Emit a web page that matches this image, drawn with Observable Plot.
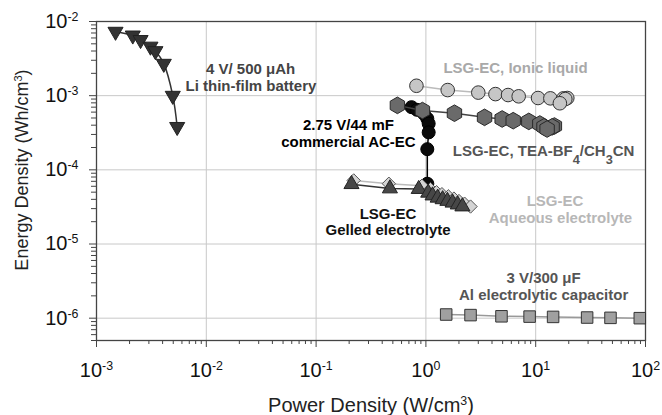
<!DOCTYPE html>
<html>
<head>
<meta charset="utf-8">
<script src="https://cdn.jsdelivr.net/npm/d3@7"></script>
<script src="https://cdn.jsdelivr.net/npm/@observablehq/plot@0.6"></script>
<style>
  html, body { margin: 0; padding: 0; background: #fff; }
</style>
</head>
<body>
<div id="chart"></div>
<script>
// ---- Data (power density W/cm^3, energy density Wh/cm^3) ----
const liPower  = [0.00149, 0.00214, 0.00252, 0.0031, 0.00344, 0.0041, 0.00495, 0.00543];
const liEnergy = [0.0073, 0.0065, 0.00565, 0.0046, 0.0040, 0.0027, 0.0010, 0.00038];

const acPower  = [0.74, 0.83, 0.96, 1.03, 1.06, 1.06, 1.03, 1.03];
const acEnergy = [7.0e-4, 6.45e-4, 5.7e-4, 4.9e-4, 4.2e-4, 3.2e-4, 1.9e-4, 6.5e-5];

const ilPower  = [0.82, 1.58, 3.0, 4.3, 5.6, 7.0, 10.5, 13.6, 17.9, 19.4, 18.6, 16.6];
const ilEnergy = [1.36e-3, 1.19e-3, 1.1e-3, 1.05e-3, 1.02e-3, 9.8e-4, 9.3e-4, 9.2e-4, 9.2e-4, 9.3e-4, 9.0e-4, 7.9e-4];

const teaPower  = [0.55, 0.93, 1.82, 3.42, 4.95, 6.24, 8.65, 10.9, 11.9, 14.8, 14.1, 12.7];
const teaEnergy = [7.4e-4, 6.3e-4, 5.8e-4, 5.1e-4, 4.85e-4, 4.6e-4, 4.5e-4, 4.15e-4, 3.8e-4, 3.9e-4, 3.8e-4, 3.55e-4];

const aqPower  = [0.22, 0.46, 0.92, 1.1, 1.25, 1.4, 1.6, 1.8, 2.0, 2.25, 2.55];
const aqEnergy = [7.2e-5, 6.5e-5, 6.1e-5, 5.5e-5, 5.0e-5, 4.7e-5, 4.4e-5, 4.1e-5, 3.8e-5, 3.5e-5, 3.2e-5];

const gelPower  = [0.21, 0.47, 0.86, 1.05, 1.15, 1.28, 1.42, 1.57, 1.75, 1.95, 2.15];
const gelEnergy = [6.4e-5, 5.6e-5, 5.5e-5, 4.9e-5, 4.5e-5, 4.2e-5, 4.0e-5, 3.8e-5, 3.6e-5, 3.4e-5, 3.2e-5];

const alPower  = [1.53, 2.55, 4.88, 8.8, 14.4, 29.4, 48, 88.7];
const alEnergy = [1.12e-6, 1.1e-6, 1.06e-6, 1.05e-6, 1.04e-6, 1.02e-6, 1.01e-6, 1.0e-6];

// Axis ticks
const xDecades = [1e-3, 1e-2, 1e-1, 1e0, 1e1, 1e2];
const yDecades = [1e-6, 1e-5, 1e-4, 1e-3, 1e-2];
const xDomain = [1e-3, 1e2];
const yDomain = [5e-7, 1e-2];

// Annotation texts (anchored in data units)
const labelText   = ["4 V/ 500 μAh", "Li thin-film battery", "LSG-EC, Ionic liquid", "2.75 V/44 mF", "commercial AC-EC",
                     "LSG-EC, TEA-BF_{4}/CH_{3}CN", "LSG-EC", "Gelled electrolyte", "LSG-EC", "Aqueous electrolyte",
                     "3 V/300 μF", "Al electrolytic capacitor"];
const labelPower  = [0.0253, 0.0255, 6.55, 0.197, 0.197, 11.8, 0.452, 0.452, 15.0, 16.8, 11.8, 11.8];
const labelEnergy = [2.25e-3, 1.36e-3, 2.36e-3, 3.96e-4, 2.36e-4, 1.77e-4, 2.56e-5, 1.52e-5, 3.78e-5, 2.21e-5, 3.44e-6, 2.03e-6];
const labelInk    = ["#444", "#444", "#a9a9a9", "#000", "#000", "#555", "#111", "#111", "#b7b7b7", "#b7b7b7", "#555", "#555"];

// ---- Build tables ----
const rows = (p, e) => p.map((v, i) => ({power: v, energy: e[i]}));
const li = rows(liPower, liEnergy);
const ac = rows(acPower, acEnergy);
const il = rows(ilPower, ilEnergy);
const tea = rows(teaPower, teaEnergy);
const aq = rows(aqPower, aqEnergy);
const gel = rows(gelPower, gelEnergy);
const al = rows(alPower, alEnergy);
const labels = labelText.map((t, i) => ({text: t, power: labelPower[i], energy: labelEnergy[i], ink: labelInk[i]}));

const minor = (lo, hi) => {
  const out = [];
  for (let k = Math.floor(Math.log10(lo)); k < Math.ceil(Math.log10(hi)); k++)
    for (let m = 2; m <= 9; m++) { const v = m * Math.pow(10, k); if (v >= lo && v <= hi) out.push(v); }
  return out;
};
const xMinor = minor(xDomain[0], xDomain[1]);
const yMinor = minor(yDomain[0], yDomain[1]);
const pow10 = d => `10^{${Math.round(Math.log10(d))}}`;

const xy = {x: "power", y: "energy"};

const plot = Plot.plot({
  width: 662,
  height: 415,
  marginLeft: 96,
  marginRight: 17,
  marginTop: 21,
  marginBottom: 75,
  style: {fontFamily: "'Liberation Sans', Arial, sans-serif", background: "#fff", color: "#111"},
  x: {type: "log", domain: xDomain},
  y: {type: "log", domain: yDomain},
  color: {type: "identity"},
  marks: [
    Plot.gridX(xDecades.slice(1, -1), {stroke: "#c8c8c8", strokeOpacity: 1, strokeWidth: 1}),
    Plot.gridY(yDecades.slice(0, -1), {stroke: "#c8c8c8", strokeOpacity: 1, strokeWidth: 1}),
    Plot.frame({stroke: "#444", strokeWidth: 1.3}),

    // Al electrolytic capacitor
    Plot.line(al, {...xy, stroke: "#999", strokeWidth: 1.5}),
    Plot.dot(al, {...xy, symbol: "square", r: 6.5, fill: "#a0a0a0", stroke: "#333", strokeWidth: 1}),
    // Ionic liquid
    Plot.line(il, {...xy, stroke: "#bbb", strokeWidth: 1.5}),
    Plot.dot(il, {...xy, symbol: "circle", r: 6.8, fill: "#c6c6c6", stroke: "#333", strokeWidth: 1}),
    // Commercial AC-EC
    Plot.line(ac, {...xy, stroke: "#000", strokeWidth: 1.5}),
    Plot.dot(ac, {...xy, symbol: "circle", r: 6.5, fill: "#0a0a0a", stroke: "#000", strokeWidth: 1}),
    // TEA-BF4
    Plot.line(tea, {...xy, stroke: "#444", strokeWidth: 1.5}),
    Plot.dot(tea, {...xy, symbol: "hexagon", r: 7.2, fill: "#6a6a6a", stroke: "#2a2a2a", strokeWidth: 1}),
    // Aqueous
    Plot.line(aq, {...xy, stroke: "#bbb", strokeWidth: 1.5}),
    Plot.dot(aq, {...xy, symbol: "diamond2", r: 6, fill: "#d4d4d4", stroke: "#555", strokeWidth: 1}),
    // Gelled
    Plot.line(gel, {...xy, stroke: "#333", strokeWidth: 1.5}),
    Plot.dot(gel, {...xy, symbol: "triangle", r: 5.6, fill: "#474747", stroke: "#222", strokeWidth: 1}),
    // Li thin-film battery
    Plot.line(li, {...xy, curve: "catmull-rom", stroke: "#333", strokeWidth: 1.5}),
    Plot.dot(li, {...xy, symbol: "triangle", rotate: 180, r: 5.6, fill: "#333", stroke: "#222", strokeWidth: 1}),

    // Annotations
    Plot.text(labels, {...xy, text: "text", fill: "ink", fontSize: 15, fontWeight: "bold", lineAnchor: "middle"}),

    // Axes
    Plot.axisX(xDecades, {tickSize: 7, tickPadding: 15, tickFormat: pow10, fontSize: 20, label: null, stroke: "#444", fill: "#111"}),
    Plot.axisX(xMinor, {tickSize: 4, tickFormat: () => "", label: null, stroke: "#444"}),
    Plot.axisY(yDecades, {tickSize: 7, tickPadding: 11, tickFormat: pow10, fontSize: 20, label: null, stroke: "#444", fill: "#111"}),
    Plot.axisY(yMinor, {tickSize: 5, tickFormat: () => "", label: null, stroke: "#444"}),

    // Axis titles
    Plot.text(["Power Density (W/cm^{3})"], {frameAnchor: "bottom", dy: 65, fontSize: 20, fill: "#222", lineAnchor: "middle", textAnchor: "middle"}),
    Plot.text(["Energy Density (Wh/cm^{3})"], {frameAnchor: "left", dx: -74, dy: -11, rotate: -90, fontSize: 18, fill: "#222", lineAnchor: "middle", textAnchor: "middle"})
  ]
});

// Turn ^{...} and _{...} markup into real superscript/subscript tspans
function richify(svg) {
  const ns = "http://www.w3.org/2000/svg";
  svg.querySelectorAll("text").forEach(t => {
    const spans = t.querySelectorAll("tspan");
    const targets = spans.length ? Array.from(spans) : [t];
    targets.forEach(el => {
      const s = el.textContent;
      if (!/[\^_]\{/.test(s)) return;
      el.textContent = "";
      const re = /([\^_])\{([^}]*)\}/g;
      let last = 0, m;
      const plain = str => { if (str) el.appendChild(document.createTextNode(str)); };
      while ((m = re.exec(s))) {
        plain(s.slice(last, m.index));
        const sp = document.createElementNS(ns, "tspan");
        if (m[1] === "^") {
          sp.setAttribute("baseline-shift", "super");
          sp.setAttribute("font-size", "0.62em");
        } else {
          sp.setAttribute("baseline-shift", "sub");
          sp.setAttribute("font-size", "0.85em");
        }
        sp.textContent = m[2];
        el.appendChild(sp);
        last = re.lastIndex;
      }
      plain(s.slice(last));
    });
  });
}
richify(plot);
document.getElementById("chart").appendChild(plot);
</script>
</body>
</html>
